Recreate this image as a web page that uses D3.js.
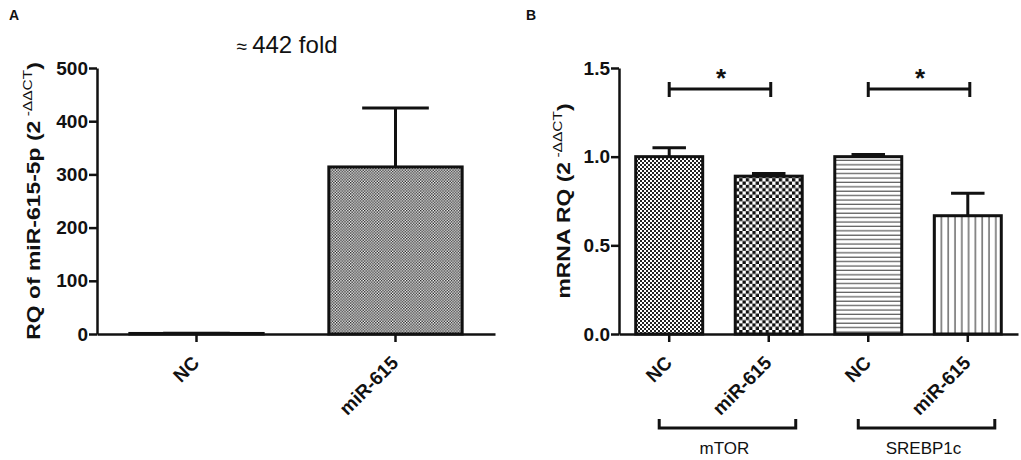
<!DOCTYPE html>
<html lang="en">
<head>
<meta charset="UTF-8">
<title>miR-615 RQ</title>
<style>
    body { margin: 0; background: #fff; }
    svg { display: block; font-family: "Liberation Sans", Arial, sans-serif; }
    .axis path, .axis line { stroke: #111; stroke-width: 2.5; }
    .axis text { font-size: 19px; font-weight: bold; fill: #111; font-family: "Liberation Sans", Arial, sans-serif; }
    .bar { stroke: #111; stroke-width: 3; }
    .err { stroke: #111; stroke-width: 3; fill: none; }
    .ylab { font-size: 18.5px; font-weight: bold; fill: #111; }
    .ylab .sup { font-size: 12.5px; font-weight: normal; }
</style>
</head>
<body>
<svg id="chart" width="1021" height="460"></svg>
<script src="https://d3js.org/d3.v7.min.js"></script>
<script>
    // panel A data
    var catsA = ["NC", "miR-615"];
    var meanA = [1, 314];
    var semA = [0.5, 111];
    var ticksA = [0, 100, 200, 300, 400, 500];

    // panel B data
    var catsB = ["NC", "miR-615", "NC", "miR-615"];
    var genesB = ["mTOR", "SREBP1c"];
    var meanB = [1.0, 0.89, 1.0, 0.667];
    var semB = [0.05, 0.015, 0.012, 0.126];
    var ticksB = [0, 0.5, 1.0, 1.5];
    var sigPairs = [[0, 1], [2, 3]];

    var svg = d3.select("#chart");
    var defs = svg.append("defs");

    // fill patterns
    function checker(id, size, color) {
        var p = defs.append("pattern").attr("id", id)
            .attr("patternUnits", "userSpaceOnUse")
            .attr("width", size * 2).attr("height", size * 2);
        p.append("rect").attr("width", size * 2).attr("height", size * 2).attr("fill", "#fff");
        p.append("rect").attr("width", size).attr("height", size).attr("fill", color);
        p.append("rect").attr("x", size).attr("y", size).attr("width", size).attr("height", size).attr("fill", color);
    }
    checker("fineA", 1.4, "#222");
    checker("fineB", 2, "#222");
    checker("coarseB", 3.3, "#111");

    var hp = defs.append("pattern").attr("id", "hlines")
        .attr("patternUnits", "userSpaceOnUse").attr("width", 8).attr("height", 4.4);
    hp.append("rect").attr("width", 8).attr("height", 4.4).attr("fill", "#fff");
    hp.append("line").attr("x1", 0).attr("x2", 8).attr("y1", 2).attr("y2", 2)
        .attr("stroke", "#555").attr("stroke-width", 1.2);

    var vp = defs.append("pattern").attr("id", "vlines")
        .attr("patternUnits", "userSpaceOnUse").attr("width", 6.8).attr("height", 8);
    vp.append("rect").attr("width", 6.8).attr("height", 8).attr("fill", "#fff");
    vp.append("line").attr("x1", 3).attr("x2", 3).attr("y1", 0).attr("y2", 8)
        .attr("stroke", "#444").attr("stroke-width", 1.2);

    var fillsA = ["#fff", "url(#fineA)"];
    var fillsB = ["url(#fineB)", "url(#coarseB)", "url(#hlines)", "url(#vlines)"];

    function drawBars(g, x, y, mean, sem, fills) {
        var bw = x.bandwidth();
        var idx = d3.range(mean.length);
        g.selectAll(".err-stem").data(idx).enter().append("line")
            .attr("class", "err")
            .attr("x1", function(i) { return x(i) + bw / 2; })
            .attr("x2", function(i) { return x(i) + bw / 2; })
            .attr("y1", function(i) { return y(mean[i]); })
            .attr("y2", function(i) { return y(mean[i] + sem[i]); });
        g.selectAll(".err-cap").data(idx).enter().append("line")
            .attr("class", "err")
            .attr("x1", function(i) { return x(i) + bw / 4; })
            .attr("x2", function(i) { return x(i) + bw * 3 / 4; })
            .attr("y1", function(i) { return y(mean[i] + sem[i]); })
            .attr("y2", function(i) { return y(mean[i] + sem[i]); });
        g.selectAll(".bar").data(idx).enter().append("rect")
            .attr("class", "bar")
            .attr("x", function(i) { return x(i); })
            .attr("width", bw)
            .attr("y", function(i) { return y(mean[i]); })
            .attr("height", function(i) { return y(0) - y(mean[i]); })
            .attr("fill", function(i) { return fills[i]; });
    }

    function drawAxes(g, x, y, cats, ticks, fmt) {
        var gx = g.append("g").attr("class", "axis")
            .attr("transform", "translate(0," + y(0) + ")")
            .call(d3.axisBottom(x).tickSize(8).tickSizeOuter(0).tickFormat(function(i) { return cats[i]; }));
        gx.selectAll("text")
            .attr("text-anchor", "end")
            .attr("dy", null).attr("y", null)
            .attr("transform", "translate(4,30) rotate(-45)");
        g.append("g").attr("class", "axis")
            .attr("transform", "translate(" + x.range()[0] + ",0)")
            .call(d3.axisLeft(y).tickValues(ticks).tickSize(8).tickPadding(1).tickSizeOuter(0).tickFormat(fmt));
    }

    function yLabel(g, tx, ty, main) {
        var t = g.append("text").attr("class", "ylab")
            .attr("text-anchor", "middle")
            .attr("transform", "translate(" + tx + "," + ty + ") rotate(-90) scale(1.24,1)");
        t.append("tspan").text(main + " (2");
        t.append("tspan").attr("class", "sup").attr("dy", -8).text(" -\u0394\u0394CT");
        t.append("tspan").attr("dy", 8).text(")");
    }

    // ---- Panel A ----
    var gA = svg.append("g");
    var xA = d3.scaleBand().domain(d3.range(catsA.length)).range([97, 495])
        .paddingInner(0.33).paddingOuter(0.165);
    var yA = d3.scaleLinear().domain([0, 500]).range([334, 68]);
    drawBars(gA, xA, yA, meanA, semA, fillsA);
    drawAxes(gA, xA, yA, catsA, ticksA, d3.format("d"));
    yLabel(gA, 40, 201, "RQ of miR-615-5p");

    gA.append("text").attr("x", 9).attr("y", 20)
        .attr("font-size", 14).attr("font-weight", "bold").attr("fill", "#111").text("A");
    var title = gA.append("text").attr("x", 287).attr("y", 53).attr("text-anchor", "middle")
        .attr("font-size", 24).attr("fill", "#111");
    title.append("tspan").attr("font-size", 19).text("\u2248 ");
    title.append("tspan").text("442 fold");

    // ---- Panel B ----
    var gB = svg.append("g");
    var xB = d3.scaleBand().domain(d3.range(catsB.length)).range([619, 1018])
        .paddingInner(0.327).paddingOuter(0.168);
    var yB = d3.scaleLinear().domain([0, 1.5]).range([334, 68]);
    drawBars(gB, xB, yB, meanB, semB, fillsB);
    drawAxes(gB, xB, yB, catsB, ticksB, d3.format(".1f"));
    yLabel(gB, 570, 201, "mRNA RQ");

    gB.append("text").attr("x", 526).attr("y", 20)
        .attr("font-size", 14).attr("font-weight", "bold").attr("fill", "#111").text("B");

    var bwB = xB.bandwidth();
    function cx(i) { return xB(i) + bwB / 2; }

    // significance brackets
    sigPairs.forEach(function(p) {
        var x1 = cx(p[0]), x2 = cx(p[1]) + 2, yy = 89;
        gB.append("path").attr("class", "err").attr("stroke-width", 2.5)
            .attr("d", "M" + x1 + "," + yy + "H" + x2 +
                "M" + x1 + "," + (yy - 7) + "V" + (yy + 8) +
                "M" + x2 + "," + (yy - 7) + "V" + (yy + 8));
        gB.append("text").attr("x", (x1 + x2) / 2 + 1).attr("y", 87)
            .attr("text-anchor", "middle").attr("font-size", 26).attr("font-weight", "bold")
            .attr("fill", "#111").text("*");
    });

    // gene group brackets
    genesB.forEach(function(gene, k) {
        var x1 = cx(k * 2) - 10, x2 = cx(k * 2 + 1) + 27, yy = 428;
        gB.append("path").attr("class", "err").attr("stroke-width", 2.5)
            .attr("d", "M" + x1 + "," + (yy - 9) + "V" + yy + "H" + x2 + "V" + (yy - 9));
        gB.append("text").attr("x", (x1 + x2) / 2 - 3).attr("y", 454)
            .attr("text-anchor", "middle").attr("font-size", 17).attr("fill", "#111").text(gene);
    });
</script>
</body>
</html>
